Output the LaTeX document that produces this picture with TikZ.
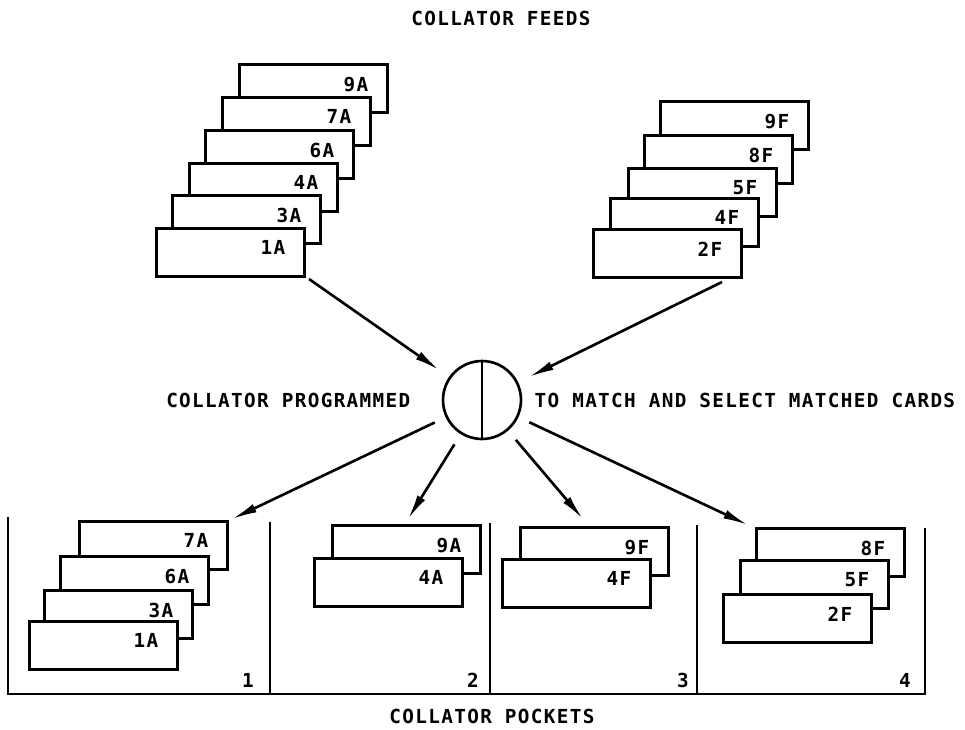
\documentclass[tikz,border=0pt]{standalone}
\usepackage{fontspec}
\newfontfamily\lettering{DejaVu Sans Mono}[LetterSpace=7]
\usetikzlibrary{positioning,arrows.meta}

\begin{document}
\begin{tikzpicture}[x=0.02cm,y=-0.02cm,
  every node/.style={font=\lettering\bfseries\fontsize{11}{13}\selectfont,inner sep=0pt},
  card/.style={draw,fill=white,line width=1.5pt,anchor=north west,minimum width=2.96cm,minimum height=0.97cm},
  cardlbl/.style={anchor=north east,xshift=-0.4cm,yshift=-0.27cm},
  pocket/.style={line width=1.3pt},
  arr/.style={-{Latex[length=0.5cm,width=0.18cm]},line width=1.5pt}]
\useasboundingbox (0,0) rectangle (965,730);

\node (feeds) at (501,18) {COLLATOR FEEDS};

% first feed
\node[card,label={[cardlbl]north east:9A}] (fa9) at (238,63) {};
\node[card,label={[cardlbl]north east:7A}] (fa7) at (221,96) {};
\node[card,label={[cardlbl]north east:6A}] (fa6) at (204,129) {};
\node[card,label={[cardlbl]north east:4A}] (fa4) at (188,162) {};
\node[card,label={[cardlbl]north east:3A}] (fa3) at (171,194) {};
\node[card,label={[cardlbl]north east:1A}] (fa1) at (155,227) {};

% second feed
\node[card,label={[cardlbl]north east:9F}] (ff9) at (659,100) {};
\node[card,label={[cardlbl]north east:8F}] (ff8) at (643,134) {};
\node[card,label={[cardlbl]north east:5F}] (ff5) at (627,167) {};
\node[card,label={[cardlbl]north east:4F}] (ff4) at (609,197) {};
\node[card,label={[cardlbl]north east:2F}] (ff2) at (592,228) {};

% collator
\node[circle,draw,line width=1.5pt,minimum size=1.56cm] (hub) at (482,400) {};
\draw[line width=1.3pt] (hub.north) -- (hub.south);
\node[left=0.62cm of hub] (prog) {COLLATOR PROGRAMMED};
\node[right=0.24cm of hub] (match) {TO MATCH AND SELECT MATCHED CARDS};

\coordinate (fa) at (309,279);
\coordinate (ff) at (722,282);
\draw[arr,shorten >=0.24cm] (fa) -- (hub);
\draw[arr,shorten >=0.24cm] (ff) -- (hub);

\coordinate (p1) at (232,519);
\coordinate (p2) at (408,519);
\coordinate (p3) at (583,519);
\coordinate (p4) at (748,525);
\draw[arr,shorten <=0.24cm] (hub) -- (p1);
\draw[arr,shorten <=0.24cm] (hub) -- (p2);
\draw[arr,shorten <=0.24cm] (hub) -- (p3);
\draw[arr,shorten <=0.24cm] (hub) -- (p4);

% pockets
\draw[pocket] (8,517) -- (8,694) -- (925,694) -- (925,528);
\draw[pocket] (270,522) -- (270,694);
\draw[pocket] (490,523) -- (490,694);
\draw[pocket] (697,525) -- (697,694);
\node (n1) at (248,680) {1};
\node (n2) at (473,680) {2};
\node (n3) at (683,680) {3};
\node (n4) at (905,680) {4};

\node[card,label={[cardlbl]north east:7A}] (pa7) at (78,520) {};
\node[card,label={[cardlbl]north east:6A}] (pa6) at (59,555) {};
\node[card,label={[cardlbl]north east:3A}] (pa3) at (43,589) {};
\node[card,label={[cardlbl]north east:1A}] (pa1) at (28,620) {};

\node[card,label={[cardlbl]north east:9A}] (pb9) at (331,524) {};
\node[card,label={[cardlbl]north east:4A}] (pb4) at (313,557) {};

\node[card,label={[cardlbl]north east:9F}] (pc9) at (519,526) {};
\node[card,label={[cardlbl]north east:4F}] (pc4) at (501,558) {};

\node[card,label={[cardlbl]north east:8F}] (pd8) at (755,527) {};
\node[card,label={[cardlbl]north east:5F}] (pd5) at (739,559) {};
\node[card,label={[cardlbl]north east:2F}] (pd2) at (722,593) {};

\node (pockets) at (492,716) {COLLATOR POCKETS};
\end{tikzpicture}
\end{document}
